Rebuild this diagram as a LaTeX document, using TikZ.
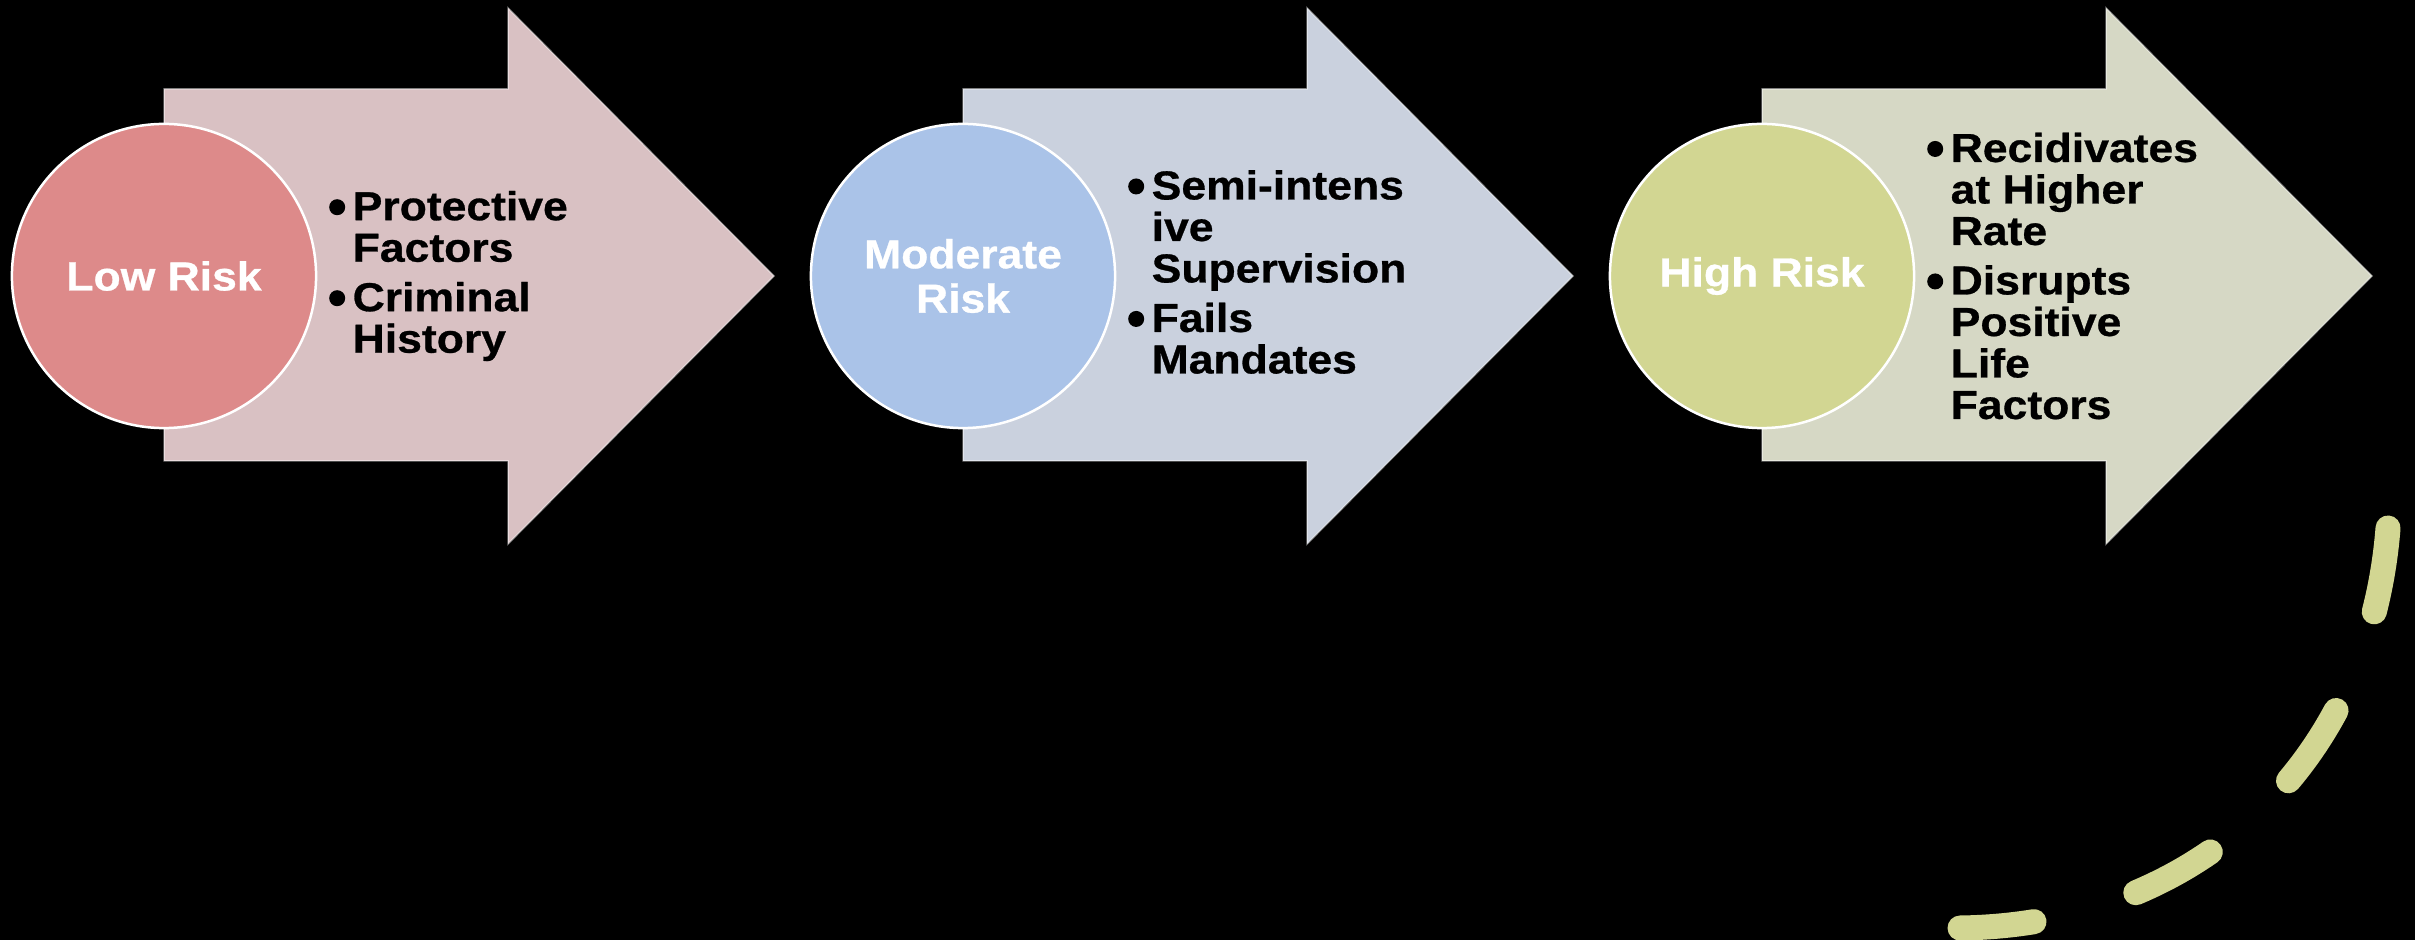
\documentclass[tikz,border=0pt]{standalone}
\usepackage{fontspec}
\setmainfont{Liberation Sans}[FakeStretch=1.1, BoldFeatures={FakeBold=0.7}]
\definecolor{arrowA}{HTML}{D9C1C3}
\definecolor{arrowB}{HTML}{CAD1DE}
\definecolor{arrowC}{HTML}{D6D8C5}
\definecolor{circA}{HTML}{DD8A8A}
\definecolor{circB}{HTML}{AAC3E8}
\definecolor{circC}{HTML}{D2D692}
\newcommand\Bul{\llap{\tikz[x=1cm,y=1cm,baseline=0pt]\fill[black] (0,0.13cm) circle (0.08cm);\hspace{0.075cm}}}
\newcommand\RiskArrow[3]{%
  \fill[#2, draw=white, draw opacity=0.45, line width=0.15mm, line join=miter]
    (164+#1,89) -- (508+#1,89) -- (508+#1,8) -- (774+#1,276) -- (508+#1,544)
    -- (508+#1,461) -- (164+#1,461) -- cycle;}
\begin{document}
\begin{tikzpicture}[x=0.01cm,y=-0.01cm,
  riskcircle/.style={circle, draw=white, line width=0.25mm, minimum size=3.04cm,
    inner sep=0pt, text=white, align=center,
    font=\bfseries\fontsize{11.5}{12.6}\selectfont},
  bullets/.style={anchor=west, align=left, inner sep=0pt, text=black,
    font=\bfseries\fontsize{11.5}{11.8}\selectfont},
  dashcurve/.style={draw=circC, line width=2.5mm, line cap=round,
    dash pattern=on 8.5mm off 10.6mm}]
\fill[black] (0,0) rectangle (2415,940);
\useasboundingbox (0,0) rectangle (2415,940);
% arrows
\RiskArrow{0}{arrowA}{}
\RiskArrow{799}{arrowB}{}
\RiskArrow{1598}{arrowC}{}
% circles
\node[riskcircle, fill=circA] (low) at (164,276) {Low Risk};
\node[riskcircle, fill=circB] (mod) at (963,276) {Moderate\\Risk};
\node[riskcircle, fill=circC] (high) at (1762,276) {High Risk};
% bullet texts
\node[bullets] (lowtxt) at (352,276)
  {\Bul Protective\\Factors\\[0.08cm]\Bul Criminal\\History};
\node[bullets] (modtxt) at (1151,272)
  {\Bul Semi-intens\\ive\\Supervision\\[0.08cm]\Bul Fails\\Mandates};
\node[bullets] (hightxt) at (1950,276)
  {\Bul Recidivates\\at Higher\\Rate\\[0.08cm]\Bul Disrupts\\Positive\\Life\\Factors};
% dashed curve
\coordinate (cstart) at (2388,528);
\coordinate (cend) at (1960,928);
\draw[dashcurve] (cstart) .. controls (2370,760) and (2200,925) .. (cend);
\end{tikzpicture}
\end{document}
